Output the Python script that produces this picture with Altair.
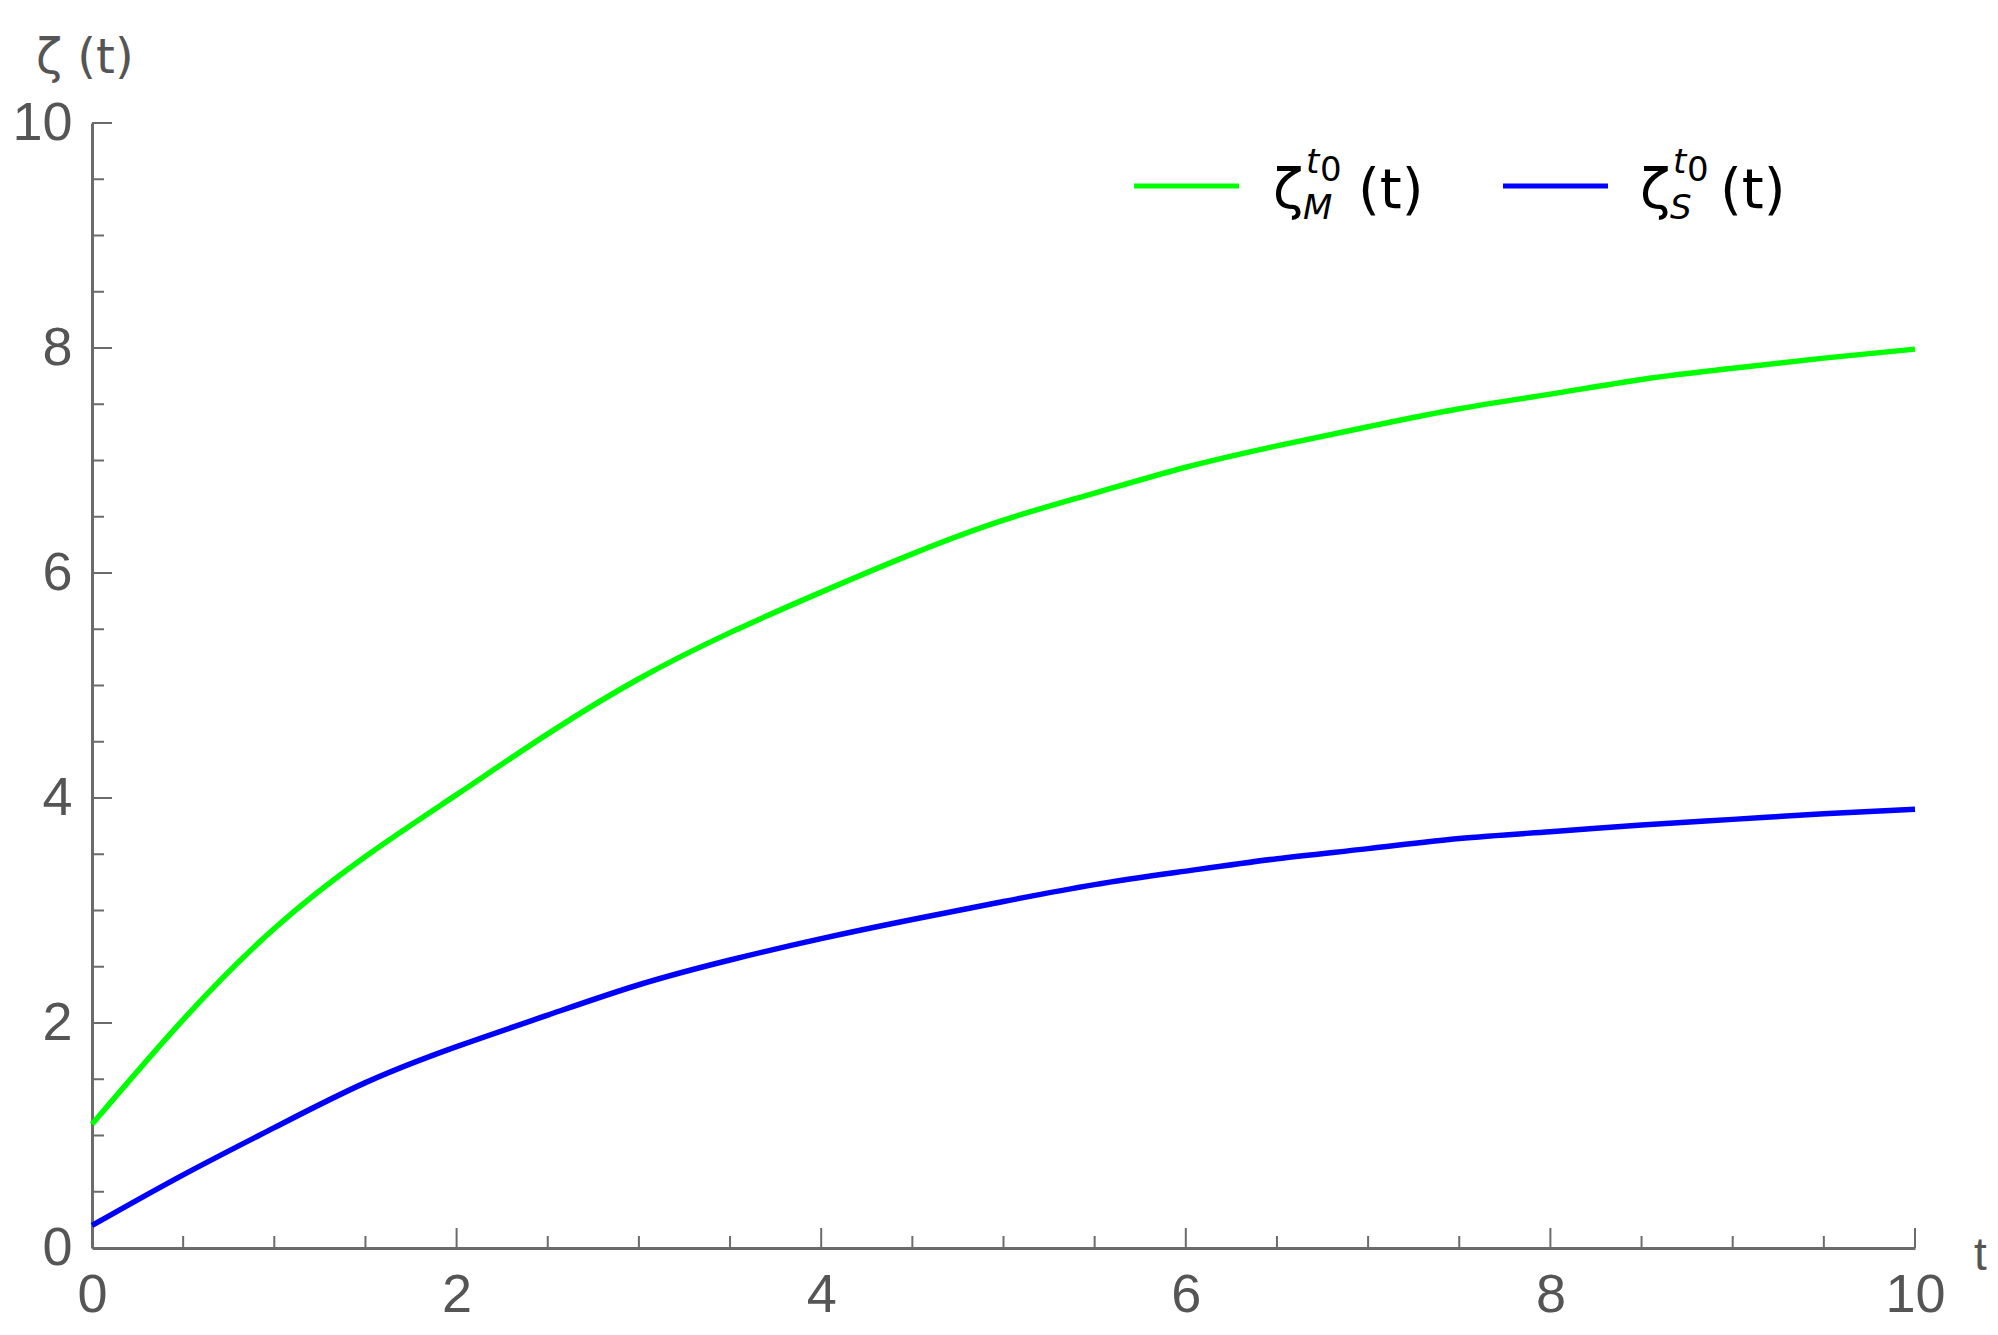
import altair as alt
import pandas as pd

# ---- data ----
t_vals = [0, 0.5, 1, 1.5, 2, 2.5, 3, 3.5, 4, 4.5, 5, 5.5, 6, 6.5, 7, 7.5, 8, 8.5, 9, 9.5, 10]
zeta_M = [1.10, 2.03, 2.84, 3.48, 4.03, 4.57, 5.06, 5.47, 5.83, 6.17, 6.47, 6.71, 6.94, 7.13, 7.30, 7.46, 7.59, 7.72, 7.82, 7.91, 7.99]
zeta_S = [0.20, 0.65, 1.07, 1.47, 1.79, 2.07, 2.34, 2.56, 2.75, 2.92, 3.08, 3.23, 3.35, 3.46, 3.55, 3.64, 3.70, 3.76, 3.81, 3.86, 3.90]
series_names = ["M", "S"]
series_colors = ["#00ff00", "#0000ff"]

x_major = [2, 4, 6, 8, 10]
x_minor = [0.5, 1, 1.5, 2.5, 3, 3.5, 4.5, 5, 5.5, 6.5, 7, 7.5, 8.5, 9, 9.5]
y_major = [2, 4, 6, 8, 10]
y_minor = [0.5, 1, 1.5, 2.5, 3, 3.5, 4.5, 5, 5.5, 6.5, 7, 7.5, 8.5, 9, 9.5]
tick_labels = [0, 2, 4, 6, 8, 10]

W, H = 1823, 1125
AX = "#6b6b6b"
LAB = "#555555"
FONT = "Liberation Sans"

rows = []
for name, vals in zip(series_names, [zeta_M, zeta_S]):
    for t, z in zip(t_vals, vals):
        rows.append({"t": t, "z": z, "s": name})
df = pd.DataFrame(rows)

xs = alt.Scale(domain=[0, 10], nice=False, zero=False)
ys = alt.Scale(domain=[0, 10], nice=False, zero=False)

lines = alt.Chart(df).mark_line(strokeWidth=5.5, interpolate="natural").encode(
    x=alt.X("t:Q", scale=xs,
            axis=alt.Axis(values=tick_labels, format="d", title=None, ticks=False, grid=False,
                          domainColor=AX, domainWidth=3, labelFont=FONT, labelFontSize=54,
                          labelColor=LAB, labelPadding=20, labelFlush=False, labelOverlap=False)),
    y=alt.Y("z:Q", scale=ys,
            axis=alt.Axis(values=tick_labels, format="d", title=None, ticks=False, grid=False,
                          domainColor=AX, domainWidth=3, labelFont=FONT, labelFontSize=54,
                          labelColor=LAB, labelPadding=20, labelOverlap=False, labelFlush=False)),
    color=alt.Color("s:N", scale=alt.Scale(domain=series_names, range=series_colors), legend=None),
)

def xticks(vals, length):
    return alt.Chart(pd.DataFrame({"t": vals})).mark_rule(color=AX, strokeWidth=2).encode(
        x=alt.X("t:Q", scale=xs), y=alt.value(H), y2=alt.value(H - length))

def yticks(vals, length):
    return alt.Chart(pd.DataFrame({"z": vals})).mark_rule(color=AX, strokeWidth=2).encode(
        y=alt.Y("z:Q", scale=ys), x=alt.value(0), x2=alt.value(length))

dummy = pd.DataFrame({"a": [0]})

def txt(s, x, y, size, color="#000000", style="normal", align="left", baseline="alphabetic", font="DejaVu Sans"):
    return alt.Chart(dummy).mark_text(text=s, fontSize=size, color=color, fontStyle=style,
                                      align=align, baseline=baseline, font=font).encode(
        x=alt.value(x), y=alt.value(y))

def sample(x1, x2, y, color):
    return alt.Chart(dummy).mark_rule(color=color, strokeWidth=5).encode(
        x=alt.value(x1), x2=alt.value(x2), y=alt.value(y))

layers = [
    lines,
    xticks(x_major, 20), xticks(x_minor, 12),
    yticks(y_major, 20), yticks(y_minor, 12),
    # axis titles
    txt("ζ (t)", -56, -50, 48, color=LAB),
    txt("t", 1882, H + 22, 46, color=LAB, font=FONT),
    # legend
    sample(1042, 1147, 63, series_colors[0]),
    txt("ζ", 1181, 85, 56),
    txt("t", 1214, 50, 34, style="italic"),
    txt("0", 1228, 58, 34),
    txt("M", 1211, 96, 34, style="italic"),
    txt("(t)", 1266, 85, 56),
    sample(1411, 1516, 63, series_colors[1]),
    txt("ζ", 1548, 85, 56),
    txt("t", 1581, 50, 34, style="italic"),
    txt("0", 1595, 58, 34),
    txt("S", 1578, 96, 34, style="italic"),
    txt("(t)", 1628, 85, 56),
]

chart = alt.layer(*layers).properties(
    width=W, height=H,
    padding={"left": 84, "top": 115, "right": 74, "bottom": 80},
    autosize=alt.AutoSizeParams(type="none"),
).configure_view(stroke=None)

chart.save("out.html", embed_options={"renderer": "svg", "actions": False})
